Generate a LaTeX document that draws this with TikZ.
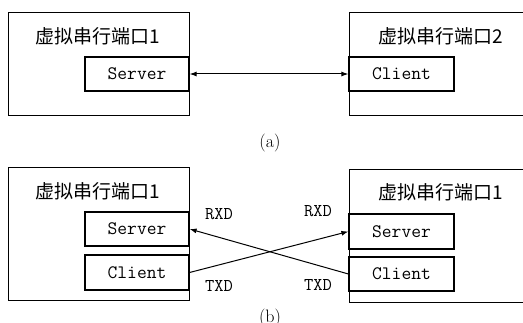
\documentclass[tikz,border=0pt]{standalone}
\usepackage{fontspec}
\newfontfamily\cjk{Noto Sans CJK SC}
\usetikzlibrary{arrows.meta, positioning}

\begin{document}
\begin{tikzpicture}[
		x=1pt, y=-1pt,
		portbox/.style = {rectangle, draw, line width=1.2pt, minimum width=181pt, anchor=north west, inner sep=0pt},
		modbox/.style = {rectangle, draw, line width=1.2pt, minimum height=34pt, inner sep=0pt, font=\ttfamily\fontsize{19}{19}\selectfont},
		title/.style = {font=\cjk\fontsize{19}{19}\selectfont},
		sig/.style = {font=\ttfamily\fontsize{18}{18}\selectfont},
		caption/.style = {font=\fontsize{18}{18}\selectfont},
		arrow/.style = {draw, -{Latex[length=7pt, width=5pt]}, line width=1pt}
		]
		\useasboundingbox (0,0) rectangle (523,323);
		
		% Ports (a)
		\node[portbox, minimum height=103pt] (PortA1) at (8,12) {};
		\node[portbox, minimum height=103pt, minimum width=200pt] (PortA2) at (349,12) {};
		\node[title] (TitleA1) at (98,36) {虚拟串行端口1};
		\node[title] (TitleA2) at (441,36) {虚拟串行端口2};
		\node[modbox, minimum width=104pt] (ServerA) at (137,74) {Server};
		\node[modbox, minimum width=105pt] (ClientA) at (401.5,74) {Client};
		\node[caption] (CapA) at (270,143) {(a)};
		
		% Ports (b)
		\node[portbox, minimum height=133pt] (PortB1) at (8,167) {};
		\node[portbox, minimum height=133pt, minimum width=200pt] (PortB2) at (349,169) {};
		\node[title] (TitleB1) at (98,191) {虚拟串行端口1};
		\node[title] (TitleB2) at (441,192) {虚拟串行端口1};
		\node[modbox, minimum width=104pt] (ServerB1) at (137,229) {Server};
		\node[modbox, minimum width=104pt, minimum height=35pt] (ClientB1) at (137,272.5) {Client};
		\node[modbox, minimum width=105pt, minimum height=35pt] (ServerB2) at (401.5,231.5) {Server};
		\node[modbox, minimum width=105pt] (ClientB2) at (401.5,274) {Client};
		\node[sig] (RxdB1) at (219,214) {RXD};
		\node[sig] (TxdB1) at (219,286) {TXD};
		\node[sig] (RxdB2) at (318,211) {RXD};
		\node[sig] (TxdB2) at (318,285) {TXD};
		\node[caption] (CapB) at (270,318) {(b)};
		
		% Arrows
		\draw[arrow, {Latex[length=7pt, width=5pt]}-{Latex[length=7pt, width=5pt]}] (ServerA.east) -- (ClientA.west);
		\draw[arrow] (ClientB1.east) -- (ServerB2.west);
		\draw[arrow] (ClientB2.west) -- (ServerB1.east);
		
	\end{tikzpicture}
\end{document}
